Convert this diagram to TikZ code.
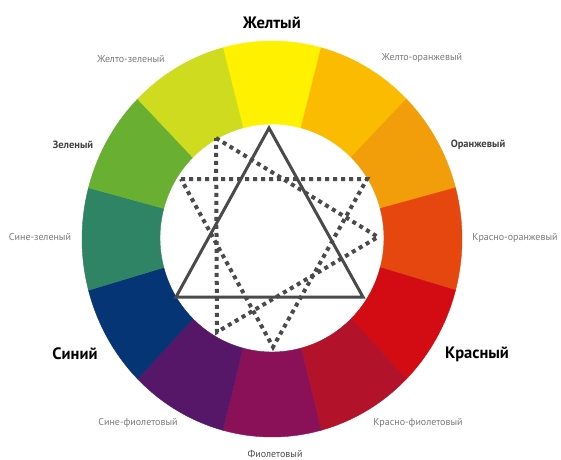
\documentclass[tikz,border=0pt]{standalone}
\usepackage{fontspec}
\setmainfont{PT Sans}
\definecolor{cY}{HTML}{FFF100}
\definecolor{cYO}{HTML}{FBBB00}
\definecolor{cO}{HTML}{F29D0A}
\definecolor{cRO}{HTML}{E5470F}
\definecolor{cR}{HTML}{D20C12}
\definecolor{cRV}{HTML}{B3122B}
\definecolor{cV}{HTML}{8A1157}
\definecolor{cBV}{HTML}{571768}
\definecolor{cB}{HTML}{063576}
\definecolor{cBG}{HTML}{2E8464}
\definecolor{cG}{HTML}{69AF31}
\definecolor{cYG}{HTML}{CFDB1F}
\definecolor{lineg}{HTML}{4A4A4A}
\definecolor{smallg}{HTML}{7A7A7A}
\tikzset{
  mainlbl/.style={font=\fontsize{16.5}{18}\selectfont\bfseries, text=black, inner sep=0pt},
  midlbl/.style={font=\fontsize{10.5}{12}\selectfont\bfseries, text=black!75, inner sep=0pt},
  smalllbl/.style={font=\fontsize{10}{12}\selectfont, text=smallg, inner sep=0pt},
  solidtri/.style={draw=lineg, line width=3pt, line join=miter},
  dottri/.style={draw=lineg, line width=4pt, dash pattern=on 4pt off 4pt},
}
\begin{document}
\begin{tikzpicture}[x=1pt,y=-1pt]
\useasboundingbox[fill=white] (0,0) rectangle (561,459);
% colour wheel
\foreach \a/\c [evaluate=\a as \lo using \a-15, evaluate=\a as \hi using \a+15] in
  {90/cY,60/cYO,30/cO,0/cRO,-30/cR,-60/cRV,-90/cV,-120/cBV,-150/cB,180/cBG,150/cG,120/cYG}{
  \fill[\c, draw=\c, line width=0.4pt]
    plot[domain=\lo:\hi, samples=16] ({272+190*cos(\x)},{239-198*sin(\x)})
    -- plot[domain=\hi:\lo, samples=16] ({272+112*cos(\x)},{238-114*sin(\x)}) -- cycle;
}
% solid triangle
\coordinate (T1) at (269,128);
\coordinate (T2) at (363,297);
\coordinate (T3) at (176,297);
\draw[solidtri] (T1) -- (T2) -- (T3) -- cycle;
% dotted triangle pointing down
\coordinate (B1) at (181,179);
\coordinate (B2) at (367,179);
\coordinate (B3) at (273,347);
\draw[dottri] (B1) -- (B2) -- (B3) -- cycle;
% dotted triangle pointing right
\coordinate (A1) at (216,138);
\coordinate (A2) at (378,237);
\coordinate (A3) at (217,332);
\draw[dottri] (A1) -- (A2) -- (A3) -- cycle;
% labels
\node[mainlbl] (yel) at (272,23) {Желтый};
\node[mainlbl] (blu) at (75,354) {Синий};
\node[mainlbl] (red) at (477,354) {Красный};
\node[midlbl] (grn) at (73,145) {Зеленый};
\node[midlbl] (org) at (478,145) {Оранжевый};
\node[smalllbl] (yg) at (131,59) {Желто-зеленый};
\node[smalllbl] (yo) at (422,58) {Желто-оранжевый};
\node[smalllbl] (bg) at (40,237) {Сине-зеленый};
\node[smalllbl] (ro) at (515,238) {Красно-оранжевый};
\node[smalllbl] (bv) at (138,423) {Сине-фиолетовый};
\node[smalllbl] (rv) at (418,423) {Красно-фиолетовый};
\node[smalllbl, text=black!70] (vi) at (275,454) {Фиолетовый};
\end{tikzpicture}
\end{document}
